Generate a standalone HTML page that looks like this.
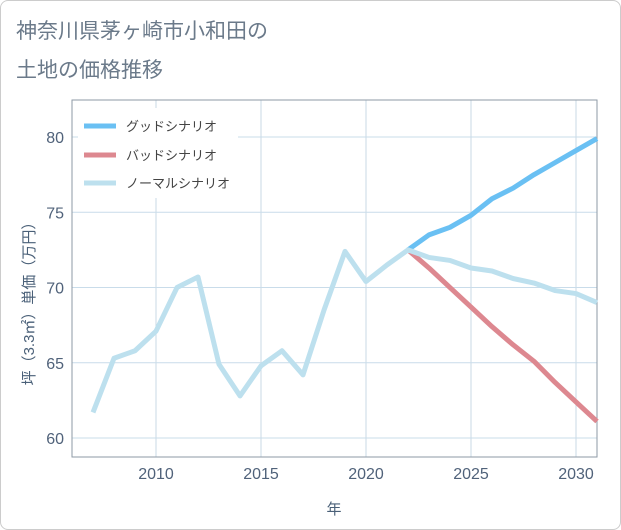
<!DOCTYPE html>
<html><head><meta charset="utf-8"><style>
body{margin:0;background:#fff;font-family:"Liberation Sans","Noto Sans CJK JP",sans-serif}
#card{position:absolute;left:0;top:0;width:619px;height:528px;border:1px solid #ccc;border-radius:8px;background:#fff}
</style></head><body>
<div id="card"></div>
<svg id="c" width="621" height="530" style="position:absolute;left:0;top:0">
<text x="16" y="38" font-size="21" fill="#6b7a8a">神奈川県茅ヶ崎市小和田の</text>
<text x="16" y="77" font-size="21" fill="#6b7a8a">土地の価格推移</text>
<g id="grid"></g><g id="series"></g><g id="axes"></g>
<text transform="translate(34,300) rotate(-90)" text-anchor="middle" font-size="15" fill="#4a6078">坪（3.3㎡）単価（万円）</text>
<text x="334" y="514" text-anchor="middle" font-size="15" fill="#4a6078">年</text>
<g>
<rect x="78" y="108" width="160" height="90" fill="#fff"/>
<line x1="84" y1="126" x2="116" y2="126" stroke="#6ac0f3" stroke-width="5"/>
<text x="126" y="131" font-size="13" fill="#444">グッドシナリオ</text>
<line x1="84" y1="155" x2="116" y2="155" stroke="#dd8890" stroke-width="5"/>
<text x="126" y="160" font-size="13" fill="#444">バッドシナリオ</text>
<line x1="84" y1="183" x2="116" y2="183" stroke="#bde0ee" stroke-width="5"/>
<text x="126" y="188" font-size="13" fill="#444">ノーマルシナリオ</text>
</g>
</svg>
<script>
const normalYears=[2007,2008,2009,2010,2011,2012,2013,2014,2015,2016,2017,2018,2019,2020,2021,2022,2023,2024,2025,2026,2027,2028,2029,2030,2031];
const normalValues=[61.7,65.3,65.8,67.1,70.0,70.7,64.9,62.8,64.8,65.8,64.2,68.5,72.4,70.4,71.5,72.5,72.0,71.8,71.3,71.1,70.6,70.3,69.8,69.6,69.0];
const forecastYears=[2022,2023,2024,2025,2026,2027,2028,2029,2030,2031];
const goodValues=[72.5,73.5,74.0,74.8,75.9,76.6,77.5,78.3,79.1,79.9];
const badValues=[72.5,71.3,70.0,68.7,67.4,66.2,65.1,63.7,62.4,61.1];
const xTicks=[2010,2015,2020,2025,2030];
const yTicks=[60,65,70,75,80];
const L=72,R=597,T=100,B=457,xMin=2006,xMax=2031,yMin=58.74,yMax=82.46;
const X=v=>L+(v-xMin)/(xMax-xMin)*(R-L);
const Y=v=>B-(v-yMin)/(yMax-yMin)*(B-T);
const NS="http://www.w3.org/2000/svg";
function mk(tag,parent,attrs){const e=document.createElementNS(NS,tag);for(const k in attrs)e.setAttribute(k,attrs[k]);document.getElementById(parent).appendChild(e);return e;}
xTicks.forEach(t=>{
 const g=mk('line','grid',{x1:X(t),x2:X(t),y1:T,y2:B,stroke:'#c9d8e5'});
 
 
 const tx=mk('text','axes',{x:X(t),y:B+22,'text-anchor':'middle','font-size':16,fill:'#50627a'});
 tx.textContent=t;
 
 
});
yTicks.forEach(t=>{
 const g=mk('line','grid',{x1:L,x2:R,y1:Y(t),y2:Y(t),stroke:'#c9dcea'});
 
 
 const tx=mk('text','axes',{x:L-8,y:Y(t)+6,'text-anchor':'end','font-size':16,fill:'#50627a'});
 tx.textContent=t;
 
 
});
const frame=mk('rect','grid',{x:L,y:T,width:R-L,height:B-T,fill:'none',stroke:'#8e9aa6','stroke-width':1});


function line(xs,ys,color,name){
 const p=mk('polyline','series',{points:xs.map((x,i)=>X(x)+','+Y(ys[i])).join(' '),fill:'none',stroke:color,'stroke-width':5,'stroke-linejoin':'round'});
 
 
}
line(forecastYears,badValues,'#dd8890','bad-scenario-line');
line(forecastYears,goodValues,'#6ac0f3','good-scenario-line');
line(normalYears,normalValues,'#bde0ee','normal-scenario-line');
</script>
</body></html>
